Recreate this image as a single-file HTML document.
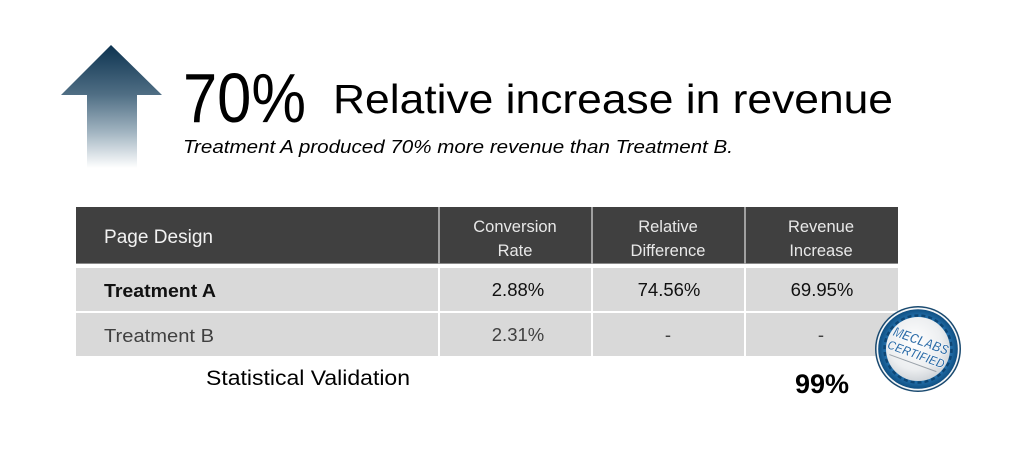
<!DOCTYPE html>
<html>
<head>
<meta charset="utf-8">
<style>
html,body{margin:0;padding:0;background:#fff;}
svg{display:block;}
text{font-family:"Liberation Sans",sans-serif;}
</style>
</head>
<body>
<svg width="1024" height="459" viewBox="0 0 1024 459" xmlns="http://www.w3.org/2000/svg">
<defs>
<linearGradient id="ag" x1="0" y1="45" x2="0" y2="168" gradientUnits="userSpaceOnUse">
<stop offset="0" stop-color="#0d3350"/>
<stop offset="0.4" stop-color="#4f6e84"/>
<stop offset="0.7" stop-color="#9fb2bf"/>
<stop offset="1" stop-color="#ffffff"/>
</linearGradient>
<radialGradient id="bc" cx="0.45" cy="0.4" r="0.7">
<stop offset="0" stop-color="#ffffff"/>
<stop offset="0.6" stop-color="#eceef0"/>
<stop offset="1" stop-color="#c2c8ce"/>
</radialGradient>
<radialGradient id="bb" cx="0.5" cy="0.5" r="0.5">
<stop offset="0.75" stop-color="#2a7ab8"/>
<stop offset="1" stop-color="#0f4f82"/>
</radialGradient>
</defs>

<!-- Arrow -->
<polygon points="111,45 162,95 137,95 137,168 87,168 87,95 61,95" fill="url(#ag)"/>

<!-- Title -->
<text x="183" y="122" font-size="70" textLength="123" lengthAdjust="spacingAndGlyphs" fill="#000">70%</text>
<text x="333" y="113" font-size="41" textLength="560" lengthAdjust="spacingAndGlyphs" fill="#000">Relative increase in revenue</text>
<text x="183" y="153" font-size="18" font-style="italic" textLength="550" lengthAdjust="spacingAndGlyphs" fill="#000">Treatment A produced 70% more revenue than Treatment B.</text>

<!-- Table header -->
<rect x="76" y="207" width="822" height="57" fill="#404040"/>
<rect x="76" y="263" width="822" height="1" fill="#8a8a8a"/>
<rect x="438" y="207" width="2" height="57" fill="#a0a0a0"/>
<rect x="591" y="207" width="2" height="57" fill="#a0a0a0"/>
<rect x="744" y="207" width="2" height="57" fill="#a0a0a0"/>

<!-- Rows -->
<rect x="76" y="268" width="822" height="43" fill="#d9d9d9"/>
<rect x="76" y="313" width="822" height="43" fill="#d9d9d9"/>
<rect x="438" y="268" width="2" height="88" fill="#ffffff"/>
<rect x="591" y="268" width="2" height="88" fill="#ffffff"/>
<rect x="744" y="268" width="2" height="88" fill="#ffffff"/>

<!-- Header text -->
<text x="104" y="243" font-size="19" textLength="109" lengthAdjust="spacingAndGlyphs" fill="#f2f2f2">Page Design</text>
<g font-size="16.5" fill="#e8e8e8" text-anchor="middle">
<text x="515" y="232">Conversion</text>
<text x="515" y="256">Rate</text>
<text x="668" y="232">Relative</text>
<text x="668" y="256">Difference</text>
<text x="821" y="232">Revenue</text>
<text x="821" y="256">Increase</text>
</g>

<!-- Row A -->
<text x="104" y="297" font-size="18.5" font-weight="bold" textLength="112" lengthAdjust="spacingAndGlyphs" fill="#111">Treatment A</text>
<g font-size="18.5" fill="#111" text-anchor="middle">
<text x="518" y="296">2.88%</text>
<text x="669" y="296">74.56%</text>
<text x="822" y="296">69.95%</text>
</g>

<!-- Row B -->
<text x="104" y="342" font-size="18.5" textLength="110" lengthAdjust="spacingAndGlyphs" fill="#404040">Treatment B</text>
<g font-size="18.5" fill="#404040" text-anchor="middle">
<text x="518" y="341">2.31%</text>
<text x="668" y="341">-</text>
<text x="821" y="341">-</text>
</g>

<!-- Statistical validation -->
<text x="206" y="385" font-size="21" textLength="204" lengthAdjust="spacingAndGlyphs" fill="#000">Statistical Validation</text>
<text x="822" y="393" font-size="27" font-weight="bold" text-anchor="middle" fill="#000">99%</text>

<!-- Badge -->
<circle cx="918" cy="349" r="43" fill="#1a4a70"/>
<circle cx="918" cy="349" r="41.5" fill="#f4f6f8"/>
<circle cx="918" cy="349" r="39.8" fill="url(#bb)"/>
<circle cx="918" cy="349" r="33.5" fill="none" stroke="#0d4675" stroke-width="2.5" stroke-dasharray="4 3"/>
<circle cx="918" cy="349" r="32" fill="url(#bc)"/>
<g transform="rotate(20 918 349)" font-weight="bold" font-style="italic" fill="#2a6aa6" stroke="#ffffff" stroke-width="0.5" text-anchor="middle">
<text x="918" y="345" font-size="14" textLength="58" lengthAdjust="spacingAndGlyphs">MECLABS</text>
<text x="918" y="359" font-size="13" textLength="60" lengthAdjust="spacingAndGlyphs">CERTIFIED</text>
<line x1="893" y1="364" x2="943" y2="364" stroke="#9aa2aa" stroke-width="1"/>
</g>
</svg>
</body>
</html>
